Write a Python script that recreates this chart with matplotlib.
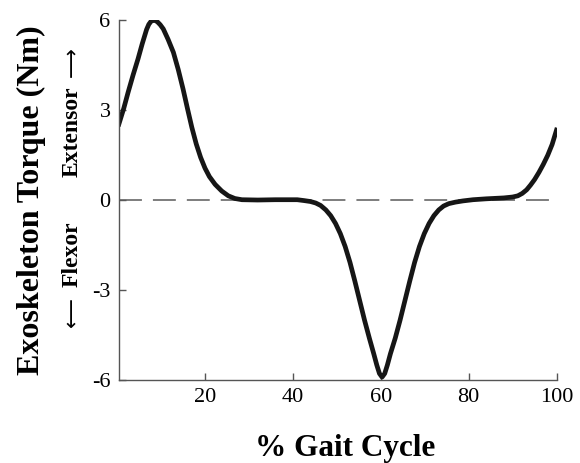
import matplotlib.pyplot as plt

plt.rcParams['font.family'] = ['Liberation Serif', 'DejaVu Serif']
plt.rcParams['axes.unicode_minus'] = False

# torque curve (% gait cycle, Nm)
gait = [0.4, 1.5, 2.5, 3.6, 4.75, 5.7, 6.7, 7.2, 7.7, 8.2, 8.7, 9.2, 9.8, 10.5, 11.6,
        12.8, 13.9, 15.0, 16.0, 17.0, 18.0, 19.0, 20.0, 21.0, 22.3, 23.8, 25.3, 26.8,
        28.4, 32.0, 36.0, 41.0, 42.6, 44.0, 45.2, 46.3, 47.5, 48.6, 49.7, 50.8, 51.9,
        53.0, 54.1, 55.2, 56.3, 57.4, 58.4, 59.1, 59.7, 60.3, 60.9, 61.5, 62.2, 63.3,
        64.4, 65.5, 66.6, 67.7, 68.8, 69.9, 71.0, 72.1, 73.2, 74.3, 75.5, 77.0, 78.7,
        81.0, 84.0, 88.0, 90.0, 91.2, 92.2, 93.2, 94.1, 95.0, 96.0, 97.0, 98.0, 99.0,
        100.0]
torque = [2.53, 3.05, 3.59, 4.15, 4.70, 5.20, 5.68, 5.85, 5.95, 5.99, 5.98, 5.93, 5.84,
          5.70, 5.35, 4.92, 4.35, 3.70, 3.05, 2.42, 1.87, 1.42, 1.06, 0.78, 0.52, 0.30,
          0.14, 0.05, 0.01, 0.0, 0.01, 0.01, -0.02, -0.05, -0.10, -0.18, -0.33, -0.52,
          -0.78, -1.12, -1.55, -2.08, -2.70, -3.35, -4.00, -4.60, -5.12, -5.50, -5.78,
          -5.90, -5.78, -5.50, -5.12, -4.60, -4.00, -3.35, -2.70, -2.08, -1.55, -1.12,
          -0.78, -0.52, -0.33, -0.20, -0.12, -0.07, -0.03, 0.01, 0.04, 0.07, 0.10, 0.14,
          0.22, 0.34, 0.50, 0.68, 0.92, 1.19, 1.49, 1.85, 2.33]

x_ticks = [20, 40, 60, 80, 100]
y_ticks = [-6, -3, 0, 3, 6]

fig = plt.figure(figsize=(5.8, 4.63), dpi=100)
ax = fig.add_axes([0.205, 0.179, 0.7545, 0.778])

ax.axhline(0, color='#5a5a5a', lw=1.1, dashes=(15, 7.2))
ax.plot(gait, torque, color='#161616', lw=3.4, solid_joinstyle='round')

ax.set_xlim(0.4, 100)
ax.set_ylim(-6, 6)
ax.set_xticks(x_ticks)
ax.set_yticks(y_ticks)

for s in ['top', 'right']:
    ax.spines[s].set_visible(False)
for s in ['left', 'bottom']:
    ax.spines[s].set_color('#555555')
    ax.spines[s].set_linewidth(1.0)
ax.tick_params(direction='in', length=5, width=1.0, color='#555555',
               labelsize=16, pad=6)

fig.text(0.595, 0.032, '% Gait Cycle', fontsize=22.5, fontweight='bold',
         ha='center', va='center')
fig.text(0.055, 0.568, 'Exoskeleton Torque (Nm)', fontsize=23, fontweight='bold',
         rotation=90, ha='center', va='center')

# direction hints next to the y label
fig.text(0.125, 0.715, 'Extensor', fontsize=17, fontweight='bold',
         rotation=90, ha='center', va='center')
fig.text(0.125, 0.866, '\u27f6', fontsize=15, family='DejaVu Sans',
         rotation=90, ha='center', va='center')
fig.text(0.125, 0.451, 'Flexor', fontsize=17, fontweight='bold',
         rotation=90, ha='center', va='center')
fig.text(0.125, 0.326, '\u27f5', fontsize=15, family='DejaVu Sans',
         rotation=90, ha='center', va='center')

fig.savefig('out.png', dpi=100)
